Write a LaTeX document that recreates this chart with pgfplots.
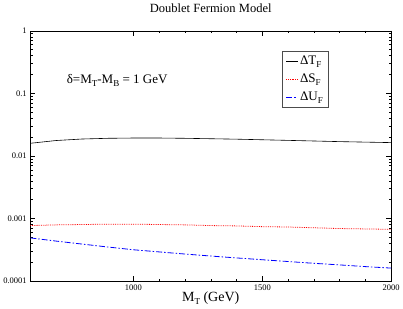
\documentclass[border=0pt]{standalone}
\usepackage{pgfplots}
\pgfplotsset{compat=1.18}
\usepackage{fontspec}
\setmainfont{Liberation Serif}
\newcommand{\sub}[1]{\raisebox{-0.45ex}{\fontsize{9}{10}\selectfont #1}}
\begin{document}
\begin{tikzpicture}[x=1bp,y=1bp]
\begin{axis}[
  scale only axis,
  width=359bp, height=249bp,
  ymode=log,
  xmin=600, xmax=2000,
  ymin=1e-4, ymax=1,
  xtick={1000,1500,2000},
  minor x tick num=4,
  ytick={1e-4,1e-3,1e-2,1e-1,1},
  yticklabels={0.0001,0.001,0.01,0.1,1},
  xticklabels={1000,1500,2000},
  tick align=inside,
  ticklabel style={font=\fontsize{8.5}{9}\selectfont},
  /pgf/number format/assume math mode=true,
  tick style={black, thin},
  major tick length=5bp, minor tick length=2.5bp,
  axis line style={black, thin},
  title={Doublet Fermion Model},
  title style={font=\fontsize{12.5}{14}\selectfont, yshift=9bp},
  xlabel={M\sub{T} (GeV)},
  xlabel style={font=\fontsize{14}{15}\selectfont, yshift=5bp},
  legend style={at={(rel axis cs:0.698,0.92)}, anchor=north west, draw=black!70, font=\fontsize{13}{15}\selectfont, row sep=4bp, inner sep=3bp, inner xsep=3.5bp},
  legend cell align=left,
  legend image code/.code={\draw[#1] (0cm,0cm) -- (0.4cm,0cm);},
]
\addplot[black, semithick] coordinates {
(600,0.0159) (700,0.0176) (800,0.0186) (900,0.0191) (1000,0.0193) (1100,0.0193) (1200,0.0191) (1300,0.0188) (1400,0.0185) (1500,0.0181) (1600,0.0177) (1700,0.0173) (1800,0.0169) (1900,0.0166) (2000,0.0163)};
\addlegendentry{ΔT\sub{F}}
\addplot[red, thick, densely dotted] coordinates {
(600,0.00077) (700,0.00079) (800,0.00080) (900,0.00081) (1000,0.00081) (1100,0.00080) (1200,0.00079) (1300,0.00077) (1400,0.00076) (1500,0.00074) (1600,0.00073) (1700,0.00071) (1800,0.00069) (1900,0.00068) (2000,0.00067)};
\addlegendentry{ΔS\sub{F}}
\addplot[blue, thick, dash pattern=on 6pt off 2pt on 1.5pt off 2pt] coordinates {
(600,0.000489) (700,0.000435) (800,0.000390) (900,0.000350) (1000,0.000316) (1100,0.000292) (1200,0.000270) (1300,0.000251) (1400,0.000234) (1500,0.000219) (1600,0.000205) (1700,0.000192) (1800,0.000181) (1900,0.000170) (2000,0.000161)};
\addlegendentry{ΔU\sub{F}}
\node[anchor=west, font=\fontsize{13}{15}\selectfont] at (axis cs:728,0.16) {δ=M\sub{T}-M\sub{B} = 1 GeV};
\end{axis}
\end{tikzpicture}
\end{document}
